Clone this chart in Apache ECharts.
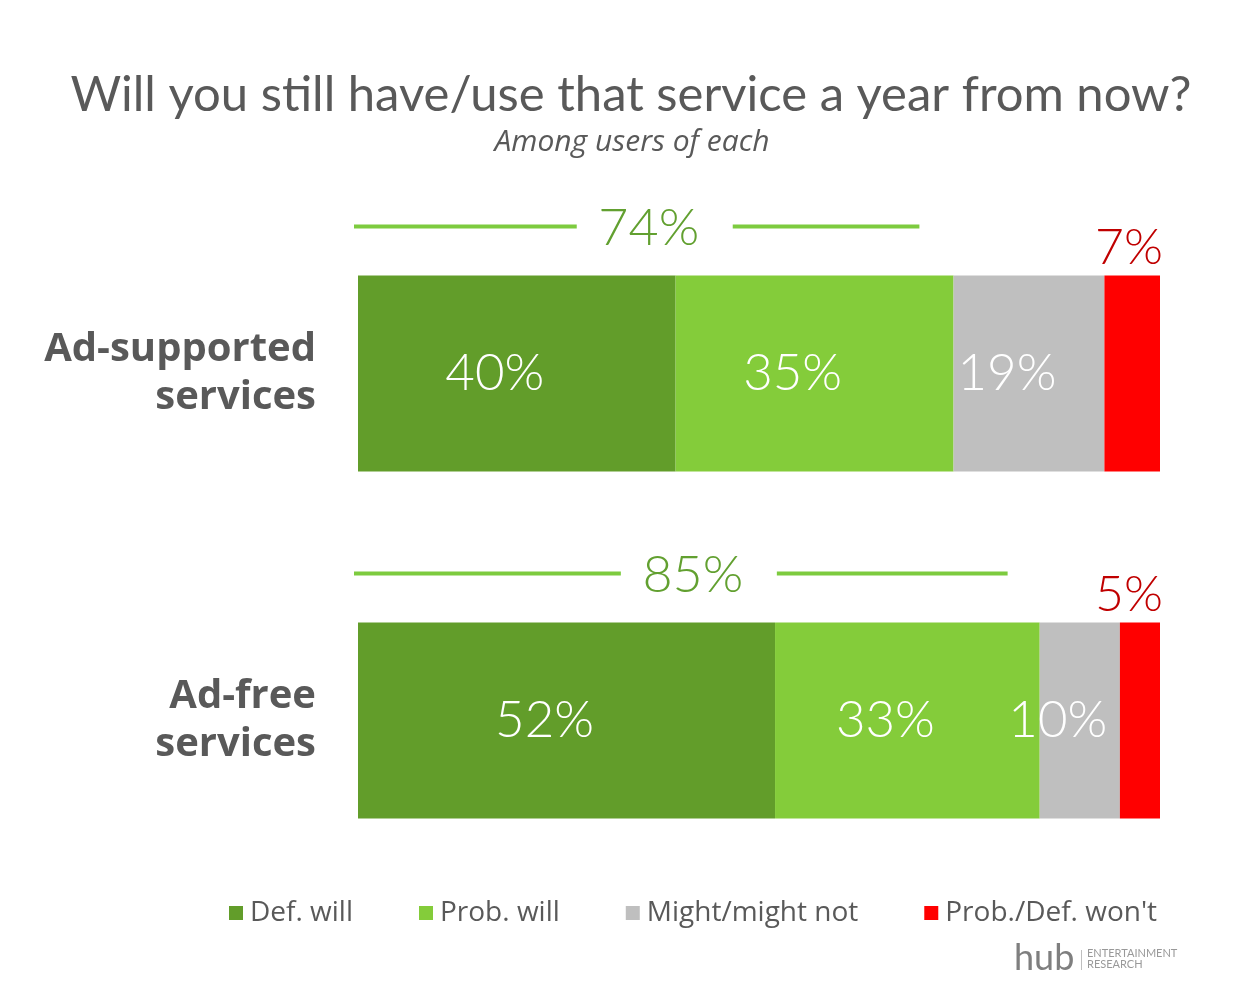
<!DOCTYPE html>
<html>
<head>
<meta charset="utf-8">
<script src="https://cdn.jsdelivr.net/npm/echarts@6/dist/echarts.min.js"></script>
<style>
  html, body { margin: 0; padding: 0; background: #ffffff; }
  #chart { width: 1245px; height: 982px; }
</style>
</head>
<body>
<div id="chart"></div>
<script>
// ---- data ----
const categories = ['Ad-supported\nservices', 'Ad-free\nservices'];
const seriesNames = ['Def. will', 'Prob. will', 'Might/might not', "Prob./Def. won't"];
const defWill = [40, 52];
const probWill = [35, 33];
const mightNot = [19, 10];
const wont = [7, 5];
const willTotals = [74, 85];

const colors = ['#629d2a', '#84cc3a', '#bfbfbf', '#ff0000'];
const rows = [defWill, probWill, mightNot, wont];
const rowTotals = categories.map((c, i) => rows.reduce((s, r) => s + r[i], 0));

const FONT = 'Lato, "Open Sans", sans-serif';
const WIDE = '"Open Sans", Lato, sans-serif';

const chart = echarts.init(document.getElementById('chart'));

const barSeries = seriesNames.map((name, si) => ({
  name: name,
  type: 'bar',
  stack: 'total',
  barWidth: 196,
  itemStyle: { color: colors[si] },
  emphasis: { disabled: true },
  label: si < 3 ? {
    show: true,
    position: 'inside',
    offset: [-22, 0],
    color: '#ffffff',
    fontSize: 51,
    fontFamily: FONT,
    fontWeight: 300,
    formatter: p => rows[si][p.dataIndex] + '%'
  } : { show: false },
  data: rows[si].map((v, i) => v / rowTotals[i] * 100)
}));

const annotSeries = {
  type: 'custom',
  silent: true,
  z: 10,
  data: categories.map((c, i) => [willTotals[i], i, wont[i]]),
  renderItem: function (params, api) {
    const total = api.value(0);
    const cat = api.value(1);
    const red = api.value(2);
    const c = api.coord([total / 2, cat]);
    const x0 = api.coord([0, cat])[0];
    const xEnd = api.coord([total - 4, cat])[0];
    const xMax = api.coord([100, cat])[0];
    const y = c[1] - 147;
    const gap = 78;
    const lineStyle = { stroke: '#7dcb3f', lineWidth: 4 };
    return {
      type: 'group',
      children: [
        { type: 'line', shape: { x1: x0 - 4, y1: y, x2: c[0] - gap, y2: y }, style: lineStyle },
        { type: 'line', shape: { x1: c[0] + gap, y1: y, x2: xEnd, y2: y }, style: lineStyle },
        { type: 'text', style: { text: total + '%', x: c[0] - 6, y: y + 2, align: 'center', verticalAlign: 'middle',
            fill: '#62a030', font: '300 52px ' + FONT } },
        { type: 'text', style: { text: red + '%', x: xMax + 3, y: c[1] - 98 - 28, align: 'right', verticalAlign: 'middle',
            fill: '#c00000', font: '300 50px ' + FONT } }
      ]
    };
  }
};

chart.setOption({
  backgroundColor: '#ffffff',
  animation: false,
  title: [{
    text: 'Will you still have/use that service a year from now?',
    left: 626, top: 66, textAlign: 'center',
    textStyle: { fontFamily: FONT, fontWeight: 'normal', fontSize: 49, color: '#595959' }
  }, {
    text: 'Among users of each',
    left: 627, top: 122, textAlign: 'center',
    textStyle: { fontFamily: WIDE, fontWeight: 'normal', fontStyle: 'italic', fontSize: 30, color: '#595959' }
  }],
  legend: {
    data: seriesNames,
    left: 229, top: 899,
    padding: 0,
    itemWidth: 14, itemHeight: 14, itemGap: 66,
    icon: 'rect',
    selectedMode: false,
    textStyle: { fontFamily: WIDE, fontSize: 28, color: '#595959', padding: [0, 0, 0, 2] }
  },
  grid: { left: 358, right: 85, top: 200, bottom: 88 },
  xAxis: { type: 'value', min: 0, max: 100, show: false },
  yAxis: {
    type: 'category',
    data: categories,
    inverse: true,
    axisLine: { show: false },
    axisTick: { show: false },
    axisLabel: {
      margin: 42,
      fontFamily: WIDE, fontWeight: 'bold', fontSize: 40, lineHeight: 48, color: '#595959', align: 'right'
    }
  },
  series: barSeries.concat([annotSeries]),
  graphic: [
    { type: 'text', left: 1014, top: 940, style: { text: 'hub', font: '36px ' + FONT, fill: '#7f7f7f' } },
    { type: 'rect', shape: { x: 1081, y: 950, width: 1, height: 20 }, style: { fill: '#bfbfbf' } },
    { type: 'text', left: 1087, top: 948, style: { text: 'ENTERTAINMENT\nRESEARCH', font: '11px ' + FONT, lineHeight: 11, fill: '#999999' } }
  ]
});
</script>
</body>
</html>
